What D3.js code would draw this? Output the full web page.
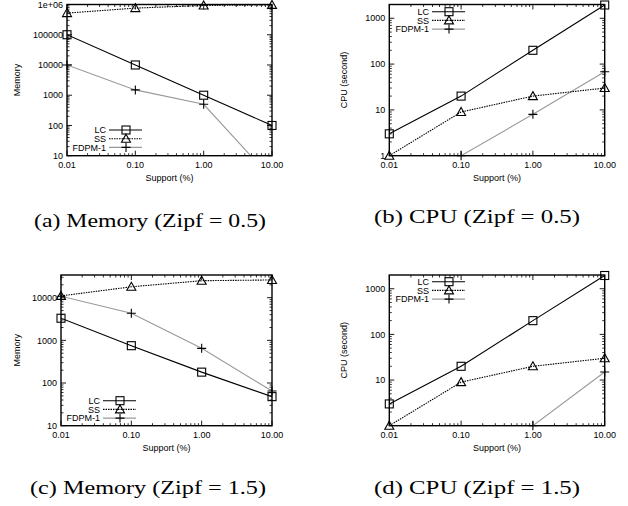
<!DOCTYPE html>
<html>
<head>
<meta charset="utf-8">
<script src="https://cdn.jsdelivr.net/npm/d3@7"></script>
<style>
  html, body { margin: 0; padding: 0; background: #fff; }
  svg { display: block; }
  .tick-label { font-family: "Liberation Sans", Arial, sans-serif; font-size: 9px; fill: #000; }
  .axis-title { font-family: "Liberation Sans", Arial, sans-serif; font-size: 9px; fill: #000; }
  .legend-label { font-family: "Liberation Sans", Arial, sans-serif; font-size: 9px; fill: #000; }
  .caption { font-family: "Liberation Serif", "DejaVu Serif", serif; font-size: 18px; fill: #000; }
</style>
</head>
<body>
<svg id="chart" width="628" height="506"></svg>
<script>
// ---------------- DATA ----------------
const supports = [0.01, 0.1, 1, 10];
const xTickLabels = ["0.01", "0.10", "1.00", "10.00"];
const seriesNames = ["LC", "SS", "FDPM-1"];

const memTicks = [10, 100, 1000, 10000, 100000, 1000000];
const memTickLabels = ["10", "100", "1000", "10000", "100000", "1e+06"];
const cpuTicks = [1, 10, 100, 1000];
const cpuTickLabels = ["1", "10", "100", "1000"];
const cpuTicksD = [10, 100, 1000];
const cpuTickLabelsD = ["10", "100", "1000"];

// (a) Memory, Zipf = 0.5
const memZ05_LC = [100000, 10000, 1000, 100];
const memZ05_SS = [520000, 760000, 930000, 970000];
const memZ05_FDPM = [10000, 1500, 500, 1.7];
// (b) CPU, Zipf = 0.5
const cpuZ05_LC = [3, 20, 200, 1950];
const cpuZ05_SS = [1, 9, 20, 30];
const cpuZ05_FDPM = [0.3, 1, 8, 68];
// (c) Memory, Zipf = 1.5
const memZ15_LC = [3300, 750, 180, 48];
const memZ15_SS = [11000, 18000, 25000, 26000];
const memZ15_FDPM = [10800, 4300, 650, 65];
// (d) CPU, Zipf = 1.5
const cpuZ15_LC = [3, 20, 200, 1950];
const cpuZ15_SS = [1, 9, 20, 30];
const cpuZ15_FDPM = [0.1, 0.3, 1, 15];

const captions = ["(a) Memory (Zipf = 0.5)", "(b) CPU (Zipf = 0.5)", "(c) Memory (Zipf = 1.5)", "(d) CPU (Zipf = 1.5)"];

// ---------------- STYLES ----------------
const seriesStyle = {
  "LC":     { stroke: "#000", dash: null, width: 1.1, marker: "square" },
  "SS":     { stroke: "#000", dash: "1.5,1", width: 1.1, marker: "triangle" },
  "FDPM-1": { stroke: "#999", dash: null, width: 1.1, marker: "plus" }
};

const svg = d3.select("#chart");

const panels = [
  { box: [67, 272, 4.5, 155.7], yDomain: [10, 1e6], yTicks: memTicks, yLabels: memTickLabels,
    yTitle: "Memory", yTitleX: 17, series: [memZ05_LC, memZ05_SS, memZ05_FDPM],
    legend: { x: 106, y: 130 }, caption: { text: captions[0], x: 34, w: 232, y: 227 } },
  { box: [389.3, 604.7, 4.5, 155.7], yDomain: [1, 2000], yTicks: cpuTicks, yLabels: cpuTickLabels,
    yTitle: "CPU (second)", yTitleX: 344, series: [cpuZ05_LC, cpuZ05_SS, cpuZ05_FDPM],
    legend: { x: 429, y: 11.7 }, caption: { text: captions[1], x: 374, w: 206, y: 223 } },
  { box: [61, 272, 275, 425.7], yDomain: [10, 34000], yTicks: memTicks, yLabels: memTickLabels,
    yTitle: "Memory", yTitleX: 17, series: [memZ15_LC, memZ15_SS, memZ15_FDPM],
    legend: { x: 100, y: 400.7 }, caption: { text: captions[2], x: 30, w: 236, y: 494 } },
  { box: [389.3, 604.7, 275, 425.7], yDomain: [1, 2000], yTicks: cpuTicksD, yLabels: cpuTickLabelsD,
    yTitle: "CPU (second)", yTitleX: 344, series: [cpuZ15_LC, cpuZ15_SS, cpuZ15_FDPM],
    legend: { x: 429, y: 281.7 }, caption: { text: captions[3], x: 374, w: 206, y: 494 } }
];

function drawMarker(g, type, cx, cy, color) {
  if (type === "square") {
    g.append("rect").attr("x", cx - 4).attr("y", cy - 4).attr("width", 8).attr("height", 8)
      .attr("fill", "none").attr("stroke", color).attr("stroke-width", 1.1);
  } else if (type === "triangle") {
    g.append("path").attr("d", `M${cx},${cy - 4.5}L${cx + 4.5},${cy + 3.5}L${cx - 4.5},${cy + 3.5}Z`)
      .attr("fill", "none").attr("stroke", color).attr("stroke-width", 1.1);
  } else {
    g.append("path").attr("d", `M${cx - 4.5},${cy}H${cx + 4.5}M${cx},${cy - 4.5}V${cy + 4.5}`)
      .attr("fill", "none").attr("stroke", "#000").attr("stroke-width", 1.1);
  }
}

panels.forEach((p, pi) => {
  const [x0, x1, y0, y1] = p.box;
  const x = d3.scaleLog().domain([0.01, 10]).range([x0, x1]);
  const y = d3.scaleLog().domain(p.yDomain).range([y1, y0]);
  const g = svg.append("g");
  const [ylo, yhi] = p.yDomain;

  const clipId = "clip" + pi;
  svg.append("clipPath").attr("id", clipId).append("rect")
    .attr("x", x0).attr("y", y0).attr("width", x1 - x0).attr("height", y1 - y0);

  // Minor & major ticks (inward, mirrored) - x axis
  const xMinor = [];
  for (let dec = 0.01; dec < 10; dec *= 10) for (let k = 2; k <= 9; k++) xMinor.push(dec * k);
  xMinor.forEach(v => {
    const px = x(v);
    g.append("line").attr("x1", px).attr("x2", px).attr("y1", y1).attr("y2", y1 - 2.5).attr("stroke", "#000").attr("stroke-width", 0.8);
    g.append("line").attr("x1", px).attr("x2", px).attr("y1", y0).attr("y2", y0 + 2.5).attr("stroke", "#000").attr("stroke-width", 0.8);
  });
  supports.forEach((v, i) => {
    const px = x(v);
    g.append("line").attr("x1", px).attr("x2", px).attr("y1", y1).attr("y2", y1 - 5).attr("stroke", "#000").attr("stroke-width", 0.9);
    g.append("line").attr("x1", px).attr("x2", px).attr("y1", y0).attr("y2", y0 + 5).attr("stroke", "#000").attr("stroke-width", 0.9);
    g.append("text").attr("class", "tick-label").attr("x", px).attr("y", y1 + 12)
      .attr("text-anchor", "middle").text(xTickLabels[i]);
  });

  // y ticks
  for (let dec = Math.pow(10, Math.floor(Math.log10(ylo))); dec < yhi; dec *= 10) {
    for (let k = 2; k <= 9; k++) {
      const v = dec * k;
      if (v <= ylo || v >= yhi) continue;
      const py = y(v);
      g.append("line").attr("x1", x0).attr("x2", x0 + 2.5).attr("y1", py).attr("y2", py).attr("stroke", "#000").attr("stroke-width", 0.8);
      g.append("line").attr("x1", x1).attr("x2", x1 - 2.5).attr("y1", py).attr("y2", py).attr("stroke", "#000").attr("stroke-width", 0.8);
    }
  }
  p.yTicks.forEach((v, i) => {
    if (v < ylo || v > yhi) return;
    const py = y(v);
    g.append("line").attr("x1", x0).attr("x2", x0 + 5).attr("y1", py).attr("y2", py).attr("stroke", "#000").attr("stroke-width", 0.9);
    g.append("line").attr("x1", x1).attr("x2", x1 - 5).attr("y1", py).attr("y2", py).attr("stroke", "#000").attr("stroke-width", 0.9);
    g.append("text").attr("class", "tick-label").attr("x", x0 - 4).attr("y", py + 3.2)
      .attr("text-anchor", "end").text(p.yLabels[i]);
  });

  // titles
  g.append("text").attr("class", "axis-title").attr("x", (x0 + x1) / 2).attr("y", y1 + 25.5)
    .attr("text-anchor", "middle").text("Support (%)");
  g.append("text").attr("class", "axis-title")
    .attr("transform", `translate(${p.yTitleX + 3},${(y0 + y1) / 2}) rotate(-90)`)
    .attr("text-anchor", "middle").text(p.yTitle);

  // series lines (clipped)
  const line = d3.line().x((d, i) => x(supports[i])).y(d => y(d));
  const plotG = g.append("g").attr("clip-path", `url(#${clipId})`);
  [2, 1, 0].forEach(si => {
    const name = seriesNames[si];
    const st = seriesStyle[name];
    plotG.append("path").attr("d", line(p.series[si]))
      .attr("fill", "none").attr("stroke", st.stroke).attr("stroke-width", st.width)
      .attr("stroke-dasharray", st.dash);
  });
  // markers (only inside range)
  seriesNames.forEach((name, si) => {
    const st = seriesStyle[name];
    p.series[si].forEach((v, i) => {
      if (v < ylo * 0.999 || v > yhi * 1.001) return;
      drawMarker(g, st.marker, x(supports[i]), y(v), "#000");
    });
  });

  // frame
  g.append("rect").attr("x", x0).attr("y", y0).attr("width", x1 - x0).attr("height", y1 - y0)
    .attr("fill", "none").attr("stroke", "#000").attr("stroke-width", 1.4);

  // legend
  seriesNames.forEach((name, si) => {
    const st = seriesStyle[name];
    const ly = p.legend.y + si * 8.7;
    g.append("text").attr("class", "legend-label").attr("x", p.legend.x).attr("y", ly + 3.2)
      .attr("text-anchor", "end").text(name);
    g.append("line").attr("x1", p.legend.x + 3).attr("x2", p.legend.x + 36).attr("y1", ly).attr("y2", ly)
      .attr("stroke", st.stroke).attr("stroke-width", st.width).attr("stroke-dasharray", st.dash);
    drawMarker(g, st.marker, p.legend.x + 20, ly, "#000");
  });

  // caption
  svg.append("text").attr("class", "caption").attr("x", p.caption.x).attr("y", p.caption.y)
    .attr("textLength", p.caption.w).attr("lengthAdjust", "spacingAndGlyphs")
    .text(p.caption.text);
});
</script>
</body>
</html>
